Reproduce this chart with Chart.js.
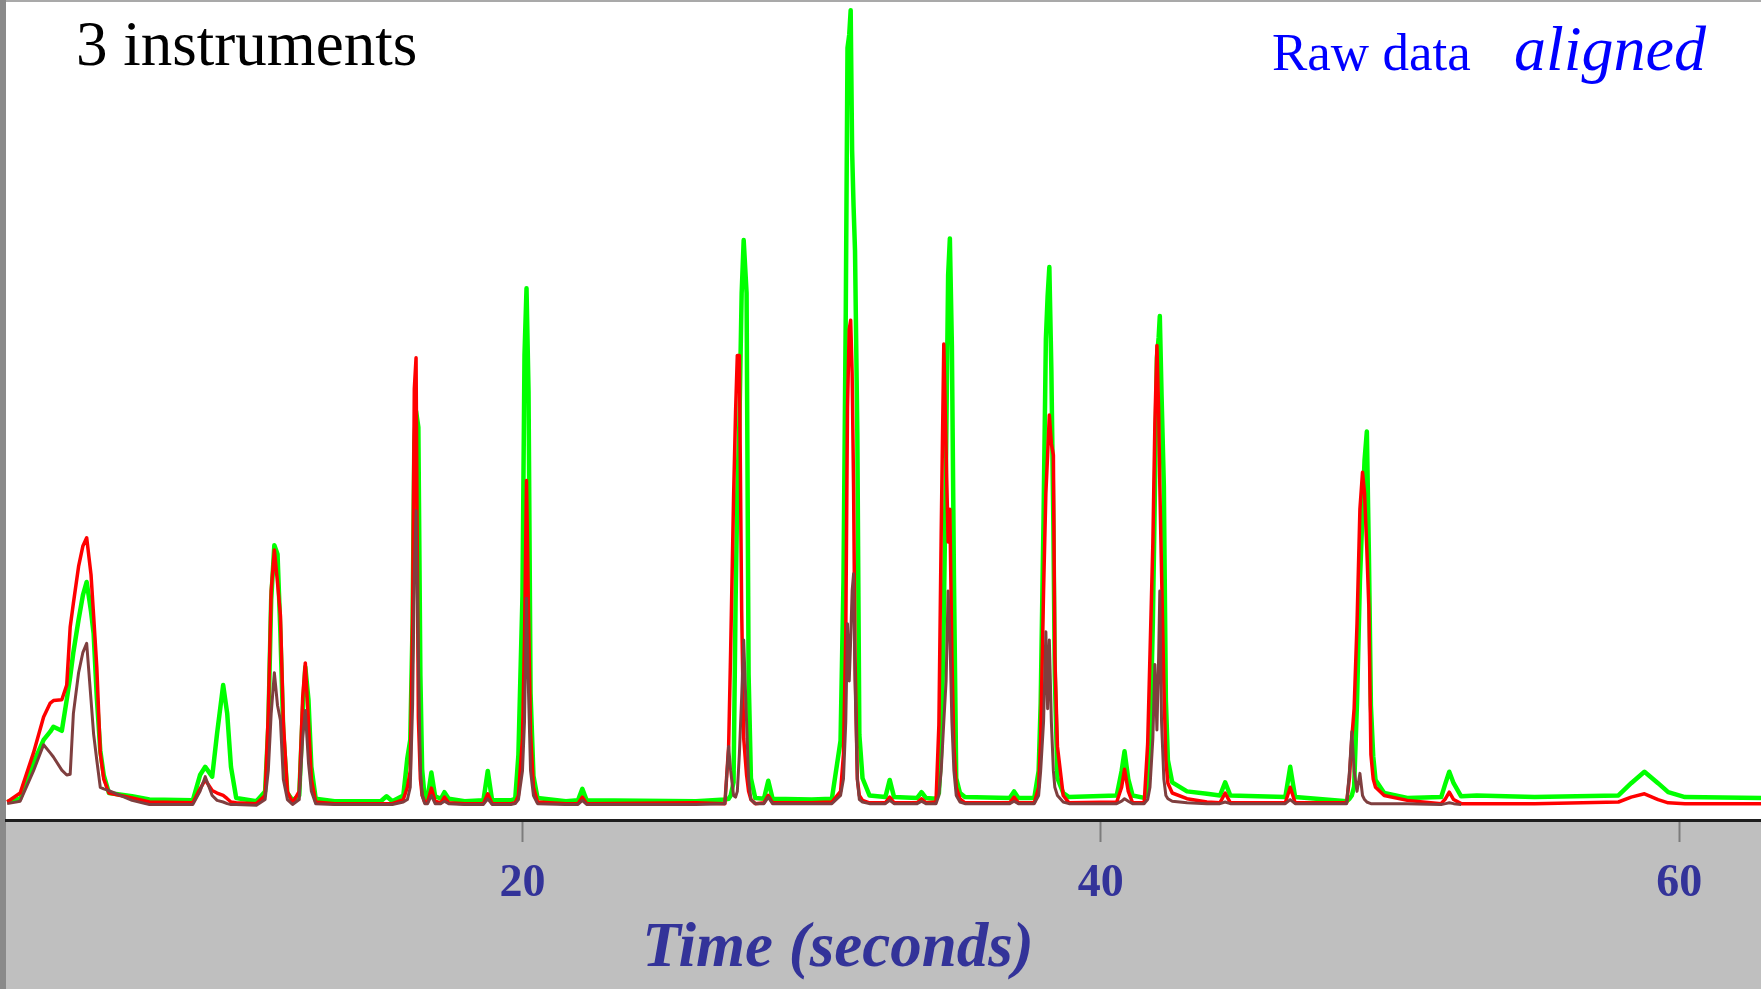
<!doctype html>
<html lang="en">
<head>
<meta charset="UTF-8">
<title>3 instruments - raw data aligned</title>
<script src="https://cdn.jsdelivr.net/npm/chart.js@4.4.1/dist/chart.umd.min.js"></script>
<style>
 html,body{margin:0;padding:0;background:#fff;overflow:hidden}
 #wrap{position:relative;width:1761px;height:989px}
</style>
</head>
<body>
<div id="wrap"><canvas id="chrom"></canvas></div>
<script>
// ----- chromatogram traces, one shared time grid (seconds) -----
const times = [
  2.18, 2.63, 3.09, 3.44, 3.67, 3.78, 4.07, 4.24, 4.36, 4.47, 4.65, 4.80, 4.93, 5.08, 5.17, 5.28, 5.40, 5.52, 5.70, 6.50, 7.10,
  8.60, 8.85, 9.03, 9.27, 9.44, 9.65, 9.79, 9.92, 10.10, 10.80,
  11.10, 11.21, 11.31, 11.42, 11.53, 11.63, 11.73, 11.87, 12.05,
  12.28, 12.40, 12.49, 12.60, 12.70, 12.85, 13.50,
  15.10, 15.30, 15.50,
  15.88, 16.02, 16.12, 16.20, 16.26, 16.32, 16.40, 16.47, 16.53, 16.62,
  16.72, 16.85, 16.98, 17.18, 17.30, 17.45, 18.00, 18.65, 18.80, 18.95, 19.60,
  19.75, 19.86, 20.00, 20.07, 20.14, 20.21, 20.28, 20.38, 20.52,
  21.50, 21.92, 22.07, 22.22, 26.00,
  27.00, 27.13, 27.20, 27.30, 27.37, 27.43, 27.50, 27.58, 27.65, 27.75, 27.82, 27.90, 28.05,
  28.35, 28.50, 28.65, 30.00,
  30.70, 31.00, 31.10, 31.18, 31.24, 31.30, 31.35, 31.40, 31.45, 31.50, 31.58, 31.65, 31.76, 32.00,
  32.55, 32.70, 32.85, 33.65, 33.80, 33.95,
  34.30, 34.40, 34.48, 34.57, 34.65, 34.72, 34.78, 34.85, 34.92, 35.00, 35.13, 35.30,
  36.85, 37.00, 37.15,
  37.70, 37.85, 37.92, 38.02, 38.10, 38.16, 38.22, 38.29, 38.36, 38.41, 38.50, 38.70, 38.90,
  40.55, 40.72, 40.82, 40.95, 41.10,
  41.50, 41.62, 41.70, 41.80, 41.87, 41.94, 42.00, 42.04, 42.10, 42.18, 42.25, 42.32, 42.47, 42.98, 43.67,
  44.12, 44.30, 44.48, 46.38, 46.55, 46.72,
  48.50, 48.60, 48.68, 48.76, 48.86, 48.96, 49.05, 49.12, 49.20, 49.27, 49.34, 49.42, 49.50, 49.80, 50.60,
  51.77, 51.92, 52.05, 52.20, 52.46,
  53.00, 55.00, 57.90, 58.34, 58.80, 59.27, 59.62, 60.20, 62.83
];

const green = [
  2.2, 2.6, 7.0, 9.8, 10.8, 11.4, 10.9, 14.7, 17.5, 20.5, 24.5, 27.5, 29.1, 25.5, 22.8, 15.0, 8.5, 5.5, 3.3, 2.9, 2.5,
  2.4, 5.5, 6.5, 5.3, 10.6, 16.5, 13.0, 6.5, 2.7, 2.3,
  3.5, 11.4, 26.9, 33.6, 32.5, 22.8, 10.6, 3.3, 2.4,
  3.0, 13.0, 18.7, 14.7, 6.5, 2.6, 2.3,
  2.3, 2.9, 2.3,
  3.0, 7.6, 9.8, 24.0, 46.0, 50.0, 48.0, 17.6, 6.2, 2.7,
  2.7, 5.8, 2.9, 2.6, 3.4, 2.6, 2.3, 2.4, 6.0, 2.4, 2.4,
  2.6, 8.0, 27.4, 56.8, 65.0, 52.4, 15.5, 5.4, 2.7,
  2.3, 2.4, 3.8, 2.4, 2.3,
  2.5, 2.6, 3.0, 4.6, 26.7, 40.0, 48.3, 64.4, 70.9, 64.4, 17.8, 5.1, 2.7,
  2.6, 4.8, 2.6, 2.5,
  2.6, 9.7, 29.0, 62.0, 94.4, 96.0, 99.0, 81.8, 75.0, 69.6, 47.2, 10.4, 5.1, 3.0,
  2.8, 4.9, 2.8, 2.7, 3.4, 2.7,
  2.6, 3.3, 8.4, 24.6, 45.0, 66.6, 71.1, 58.0, 30.0, 5.1, 3.3, 2.8,
  2.7, 3.5, 2.7,
  2.7, 6.0, 14.2, 36.9, 58.8, 64.0, 67.6, 55.0, 36.0, 17.5, 5.1, 3.3, 2.8,
  3.0, 6.0, 8.4, 5.0, 3.0,
  2.7, 3.3, 9.0, 24.2, 40.0, 56.5, 59.0, 61.6, 52.0, 40.8, 14.7, 7.3, 4.6, 3.5, 3.2,
  3.0, 4.6, 3.0, 2.8, 6.5, 2.8,
  2.3, 2.6, 3.0, 4.1, 14.4, 29.2, 37.6, 44.0, 47.5, 32.6, 14.0, 7.8, 4.9, 3.3, 2.7,
  2.8, 4.5, 5.9, 4.5, 2.9,
  3.0, 2.8, 3.0, 4.5, 5.9, 4.5, 3.4, 2.8, 2.7
];

const red = [
  2.2, 3.3, 8.2, 12.6, 14.3, 14.6, 14.7, 16.5, 23.6, 26.5, 31.0, 33.5, 34.5, 30.0, 25.0, 18.7, 8.2, 5.0, 3.3, 2.7, 2.2,
  2.1, 3.8, 4.9, 3.6, 3.3, 3.0, 2.6, 2.2, 2.1, 2.0,
  3.0, 13.0, 28.0, 33.0, 29.0, 25.0, 12.0, 3.5, 2.1,
  3.5, 15.0, 19.2, 12.0, 5.0, 2.2, 2.0,
  2.0, 2.0, 2.0,
  2.5, 4.0, 6.0, 24.7, 52.7, 56.5, 12.5, 5.0, 3.0, 2.2,
  2.2, 3.9, 2.3, 2.1, 2.8, 2.1, 2.0, 2.0, 3.2, 2.0, 2.0,
  2.1, 3.0, 10.0, 22.0, 41.5, 25.0, 10.6, 4.0, 2.2,
  2.0, 2.0, 2.8, 2.0, 2.1,
  2.0, 9.0, 20.8, 39.4, 50.0, 56.8, 56.8, 25.7, 10.0, 5.5, 3.5, 2.5, 2.0,
  2.1, 3.0, 2.1, 2.1,
  2.2, 3.5, 8.0, 22.6, 50.5, 60.0, 61.1, 54.7, 40.7, 20.0, 5.0, 3.0, 2.4, 2.1,
  2.1, 2.8, 2.1, 2.1, 2.6, 2.1,
  2.2, 11.6, 35.0, 58.2, 45.0, 34.0, 38.0, 20.0, 9.0, 4.0, 2.6, 2.1,
  2.1, 2.8, 2.1,
  2.1, 4.0, 10.0, 28.0, 40.0, 44.6, 49.5, 46.0, 44.6, 20.0, 9.0, 3.0, 2.1,
  2.2, 4.0, 6.2, 3.5, 2.1,
  2.1, 9.3, 20.2, 33.9, 48.5, 58.0, 50.0, 41.0, 30.3, 16.6, 7.3, 4.5, 3.3, 2.6, 2.2,
  2.1, 3.3, 2.1, 2.1, 4.0, 2.1,
  2.1, 5.2, 10.0, 13.6, 24.0, 38.0, 42.5, 40.0, 33.0, 25.9, 8.0, 5.0, 4.0, 3.0, 2.4,
  2.0, 2.6, 3.4, 2.5, 2.0,
  2.0, 2.0, 2.2, 2.8, 3.2, 2.5, 2.1, 2.0, 2.0
];

// third instrument stops recording after ~52 s
const brown = [
  2.0, 2.3, 6.0, 9.2, 8.2, 7.7, 6.1, 5.5, 5.6, 13.0, 18.0, 20.5, 21.6, 14.7, 10.5, 7.3, 4.0, 3.8, 3.6, 2.4, 1.9,
  1.9, 3.5, 5.3, 3.0, 2.4, 2.2, 2.0, 1.9, 1.9, 1.8,
  2.5, 6.0, 13.0, 18.0, 14.0, 12.2, 5.0, 2.5, 1.9,
  2.5, 10.0, 13.4, 7.0, 3.5, 2.0, 1.9,
  1.9, 1.9, 1.9,
  2.2, 2.5, 4.0, 14.0, 30.0, 37.8, 20.0, 6.0, 3.0, 2.0,
  2.0, 3.0, 2.0, 2.0, 2.3, 2.0, 1.9, 1.9, 2.6, 1.9, 1.9,
  2.0, 2.5, 6.0, 12.0, 27.1, 15.5, 6.0, 3.0, 2.0,
  1.9, 1.9, 2.4, 1.9, 1.9,
  2.0, 9.0, 6.0, 3.0, 2.8, 3.5, 8.0, 15.0, 22.0, 12.0, 5.0, 2.5, 2.0,
  2.0, 2.8, 2.0, 2.0,
  2.0, 3.0, 5.0, 12.0, 24.0, 17.0, 22.0, 28.0, 30.1, 17.0, 5.0, 2.5, 2.2, 2.0,
  2.0, 2.4, 2.0, 2.0, 2.3, 2.0,
  2.0, 3.0, 6.0, 12.0, 17.0, 28.0, 22.7, 12.0, 6.0, 3.0, 2.2, 2.0,
  2.0, 2.3, 2.0,
  2.0, 3.0, 6.0, 12.0, 23.0, 13.6, 22.0, 12.0, 6.0, 4.0, 3.0, 2.2, 2.0,
  2.0, 2.3, 2.6, 2.3, 2.0,
  2.0, 2.5, 4.0, 10.0, 19.0, 11.0, 20.0, 28.0, 12.0, 5.0, 3.0, 2.6, 2.3, 2.1, 2.0,
  2.0, 2.2, 2.0, 2.0, 2.5, 2.0,
  2.0, 6.0, 10.8, 6.0, 3.5, 5.7, 3.0, 2.5, 2.2, 2.1, 2.0, 2.0, 2.0, 2.0, 2.0,
  1.9, 2.0, 2.1, 2.0, 1.9,
  null, null, null, null, null, null, null, null, null
];

const tickValues = [20, 40, 60];
const xRange = [2.14, 62.83];

const titleText = '3 instruments';
const rawText = 'Raw data';
const alignedText = 'aligned';
const axisTitle = 'Time (seconds)';

const pts = vals => times.map((t, i) => ({ x: t, y: vals[i] }));

// gray frame, white plot field and the overlaid captions
const frame = {
  id: 'frame',
  beforeDraw(chart) {
    const { ctx, chartArea: a, width, height } = chart;
    ctx.save();
    ctx.fillStyle = '#bfbfbf';
    ctx.fillRect(0, 0, width, height);
    ctx.fillStyle = '#ffffff';
    ctx.fillRect(0, 0, width, a.bottom);
    ctx.fillStyle = '#a9a9a9';
    ctx.fillRect(0, 0, width, 2);
    ctx.fillStyle = '#8a8a8a';
    ctx.fillRect(0, 0, 6, height);
    ctx.restore();
  },
  afterDraw(chart) {
    const { ctx } = chart;
    ctx.save();
    ctx.textBaseline = 'alphabetic';
    ctx.textAlign = 'left';
    ctx.fillStyle = '#000';
    ctx.font = '63px "Liberation Serif"';
    ctx.fillText(titleText, 76, 65);
    ctx.fillStyle = '#0000ff';
    ctx.font = '53px "Liberation Serif"';
    ctx.fillText(rawText, 1272, 70);
    ctx.font = 'italic 64px "Liberation Serif"';
    ctx.fillText(alignedText, 1514, 70);
    ctx.fillStyle = '#333399';
    ctx.textAlign = 'center';
    ctx.font = 'italic bold 63px "Liberation Serif"';
    ctx.fillText(axisTitle, 838, 966);
    ctx.restore();
  }
};

const line = (label, vals, color, width) => ({
  label, data: pts(vals), borderColor: color, borderWidth: width,
  borderJoinStyle: 'round', pointRadius: 0, tension: 0, fill: false
});

new Chart(document.getElementById('chrom'), {
  type: 'line',
  data: {
    datasets: [
      line('Instrument 3', brown, '#7f3f3f', 3),
      line('Instrument 1', red, '#ff0000', 3.5),
      line('Instrument 2', green, '#00ff00', 4.5)
    ]
  },
  options: {
    responsive: true,
    maintainAspectRatio: false,
    animation: false,
    events: [],
    layout: { padding: { left: 6, top: 2, right: 0, bottom: 0 } },
    plugins: { legend: { display: false }, tooltip: { enabled: false } },
    scales: {
      x: {
        type: 'linear',
        min: xRange[0], max: xRange[1],
        afterBuildTicks: s => { s.ticks = tickValues.map(v => ({ value: v })); },
        afterFit: s => { s.height = 169; },
        border: { display: true, color: '#1e1e1e', width: 3 },
        grid: { drawOnChartArea: false, drawTicks: true, tickLength: 22, tickColor: '#7c7c7c', tickWidth: 2 },
        ticks: {
          padding: 15, maxRotation: 0, autoSkip: false,
          color: '#333399',
          font: { family: 'Liberation Serif', size: 46, weight: 'bold' },
          callback: v => String(v)
        }
      },
      y: { display: false, min: 0, max: 100 }
    }
  },
  plugins: [frame]
});
</script>
</body>
</html>
